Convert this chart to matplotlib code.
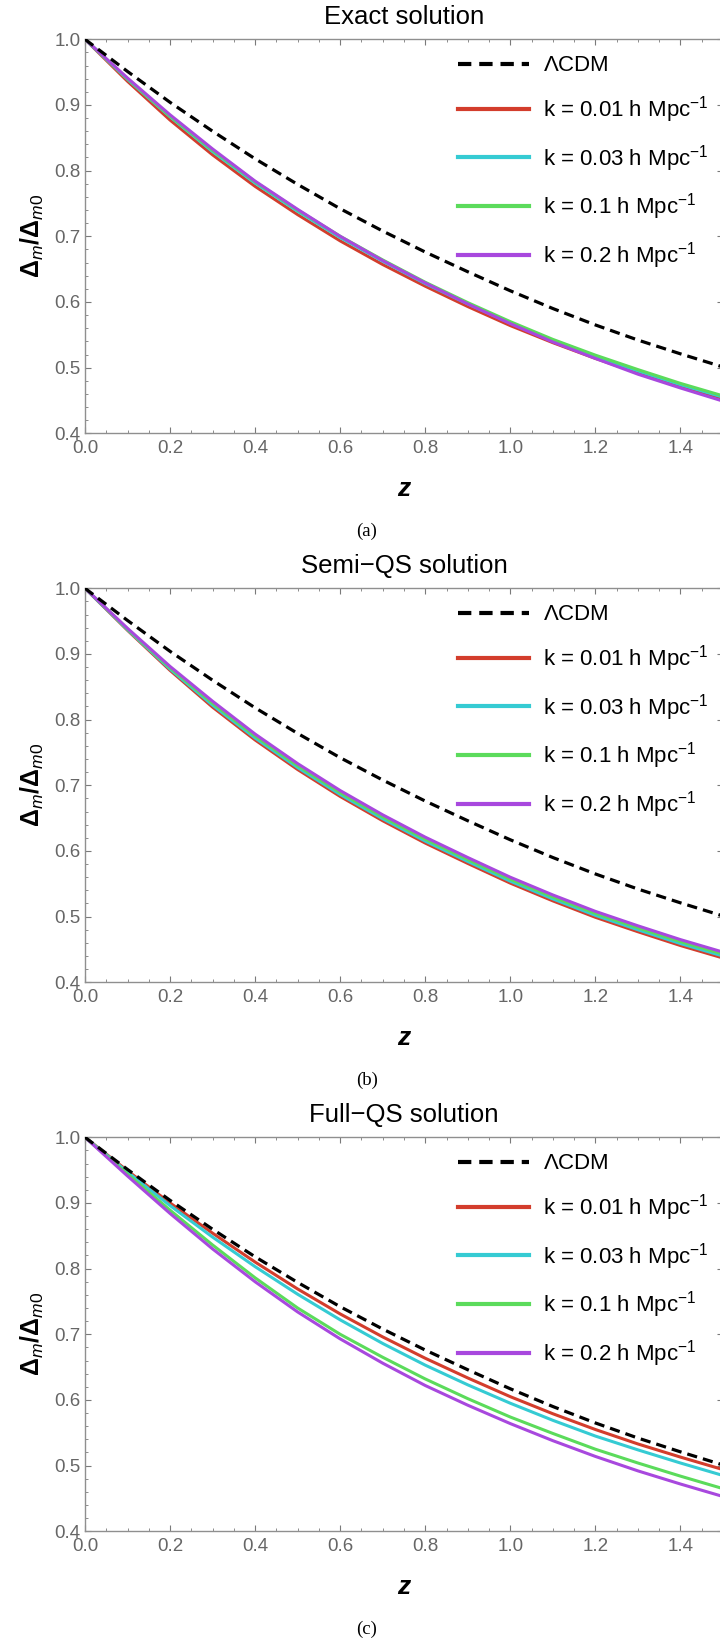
import matplotlib
matplotlib.use("Agg")
import matplotlib.pyplot as plt
from matplotlib.ticker import MultipleLocator

plt.rcParams['font.family'] = ['Liberation Sans', 'DejaVu Sans']
plt.rcParams['mathtext.fontset'] = 'custom'
plt.rcParams['mathtext.rm'] = 'Liberation Sans'
plt.rcParams['mathtext.it'] = 'Liberation Sans:italic'
plt.rcParams['mathtext.bf'] = 'Liberation Sans:bold'
plt.rcParams['mathtext.bfit'] = 'Liberation Sans:bold:italic'

# ---------------- data ----------------
z = [0.0, 0.1, 0.2, 0.3, 0.4, 0.5, 0.6, 0.7, 0.8, 0.9, 1.0, 1.1, 1.2, 1.3, 1.4, 1.5]

lcdm = [1.000, 0.951, 0.904, 0.860, 0.818, 0.779, 0.742, 0.708, 0.676, 0.646,
        0.617, 0.590, 0.565, 0.542, 0.521, 0.501]

# (a) Exact solution
exact_k001 = [1.000, 0.936, 0.877, 0.824, 0.776, 0.733, 0.693, 0.657, 0.624, 0.593,
              0.564, 0.538, 0.514, 0.492, 0.472, 0.453]
exact_k003 = [1.000, 0.939, 0.882, 0.829, 0.781, 0.738, 0.698, 0.662, 0.628, 0.597,
              0.568, 0.541, 0.517, 0.495, 0.474, 0.455]
exact_k01 = [1.000, 0.940, 0.883, 0.831, 0.783, 0.740, 0.700, 0.664, 0.630, 0.599,
             0.570, 0.543, 0.519, 0.497, 0.476, 0.457]
exact_k02 = [1.000, 0.941, 0.885, 0.833, 0.784, 0.741, 0.700, 0.663, 0.629, 0.597,
             0.567, 0.539, 0.514, 0.490, 0.469, 0.449]

# (b) Semi-QS solution
semi_k001 = [1.000, 0.936, 0.875, 0.819, 0.769, 0.724, 0.683, 0.646, 0.612, 0.581,
             0.551, 0.524, 0.499, 0.477, 0.456, 0.437]
semi_k003 = [1.000, 0.937, 0.877, 0.822, 0.772, 0.727, 0.686, 0.649, 0.615, 0.584,
             0.554, 0.527, 0.502, 0.480, 0.459, 0.440]
semi_k01 = [1.000, 0.938, 0.879, 0.825, 0.775, 0.730, 0.689, 0.652, 0.618, 0.587,
            0.557, 0.530, 0.505, 0.483, 0.462, 0.443]
semi_k02 = [1.000, 0.939, 0.881, 0.828, 0.778, 0.733, 0.692, 0.655, 0.621, 0.590,
            0.560, 0.533, 0.508, 0.486, 0.465, 0.446]

# (c) Full-QS solution
full_k001 = [1.000, 0.949, 0.900, 0.854, 0.810, 0.769, 0.731, 0.696, 0.6635, 0.6335,
             0.605, 0.579, 0.555, 0.533, 0.513, 0.494]
full_k003 = [1.000, 0.947, 0.896, 0.848, 0.803, 0.761, 0.722, 0.686, 0.653, 0.623,
             0.595, 0.569, 0.545, 0.524, 0.504, 0.485]
full_k01 = [1.000, 0.944, 0.889, 0.836, 0.786, 0.740, 0.700, 0.665, 0.632, 0.602,
            0.574, 0.549, 0.525, 0.504, 0.484, 0.465]
full_k02 = [1.000, 0.941, 0.884, 0.830, 0.780, 0.734, 0.693, 0.656, 0.622, 0.592,
            0.564, 0.538, 0.514, 0.492, 0.472, 0.453]

titles = ["Exact solution", "Semi\u2212QS solution", "Full\u2212QS solution"]
captions = ["(a)", "(b)", "(c)"]
labels = [r"$\Lambda$CDM",
          r"k = 0.01 h Mpc$^{-1}$",
          r"k = 0.03 h Mpc$^{-1}$",
          r"k = 0.1 h Mpc$^{-1}$",
          r"k = 0.2 h Mpc$^{-1}$"]
panels = [
    [exact_k001, exact_k003, exact_k01, exact_k02],
    [semi_k001, semi_k003, semi_k01, semi_k02],
    [full_k001, full_k003, full_k01, full_k02],
]
colors = ["#d33d2c", "#35cbd3", "#5bdb5b", "#a848de"]

# ---------------- figure ----------------
W, H = 720, 1645
fig = plt.figure(figsize=(W / 100, H / 100), dpi=100)

left_px, right_px = 85, 723
tops_px = [39.3, 588.3, 1137.3]
h_px = 394.0
grey = "#7a7a7a"

for i, (top, curves) in enumerate(zip(tops_px, panels)):
    ax = fig.add_axes([left_px / W, 1 - (top + h_px) / H,
                       (right_px - left_px) / W, h_px / H])
    ax.plot(z, lcdm, color="black", lw=2.3, dashes=(3.2, 1.9), label=labels[0], zorder=3)
    for c, vals, lab in zip(colors, curves, labels[1:]):
        ax.plot(z, vals, color=c, lw=2.2, label=lab, zorder=2)
    ax.set_xlim(0, 1.5)
    ax.set_ylim(0.4, 1.0)
    ax.xaxis.set_major_locator(MultipleLocator(0.2))
    ax.xaxis.set_minor_locator(MultipleLocator(0.05))
    ax.yaxis.set_major_locator(MultipleLocator(0.1))
    ax.yaxis.set_minor_locator(MultipleLocator(0.02))
    ax.xaxis.set_major_formatter(plt.FuncFormatter(lambda v, p: f"{v:.1f}"))
    ax.yaxis.set_major_formatter(plt.FuncFormatter(lambda v, p: f"{v:.1f}"))
    ax.tick_params(which="both", direction="in", top=True, right=True,
                   color=grey, labelcolor="#666666", labelsize=13.5)
    ax.tick_params(which="major", length=4.0, width=0.8, pad=3)
    ax.tick_params(which="minor", length=2.3, width=0.6)
    ax.tick_params(axis="x", which="major", pad=5)
    for s in ax.spines.values():
        s.set_color("#8f8f8f")
        s.set_linewidth(1.0)
    ax.set_title(titles[i], fontsize=18.5, pad=11)
    ax.set_xlabel("z", fontsize=19, fontweight="bold", fontstyle="italic", labelpad=14)
    ax.set_ylabel(r"$\mathbf{\Delta}_{\mathit{m}}\mathbf{/\Delta}_{\mathit{m0}}$",
                  fontsize=18, labelpad=6)
    leg = ax.legend(loc="upper left",
                    bbox_to_anchor=((458 - left_px) / (right_px - left_px), 1 - 16 / h_px),
                    frameon=False, fontsize=16, handlelength=3.2, handletextpad=0.62,
                    labelspacing=0.8, borderaxespad=0.0, borderpad=0.0)
    for ln in leg.get_lines():
        ln.set_linewidth(3.0)
    # caption below panel
    fig.text(367 / W, 1 - (top + h_px + 98.4) / H, captions[i],
             family="Liberation Serif", fontsize=13.5, ha="center", va="center")

fig.savefig("out.png", dpi=100)
